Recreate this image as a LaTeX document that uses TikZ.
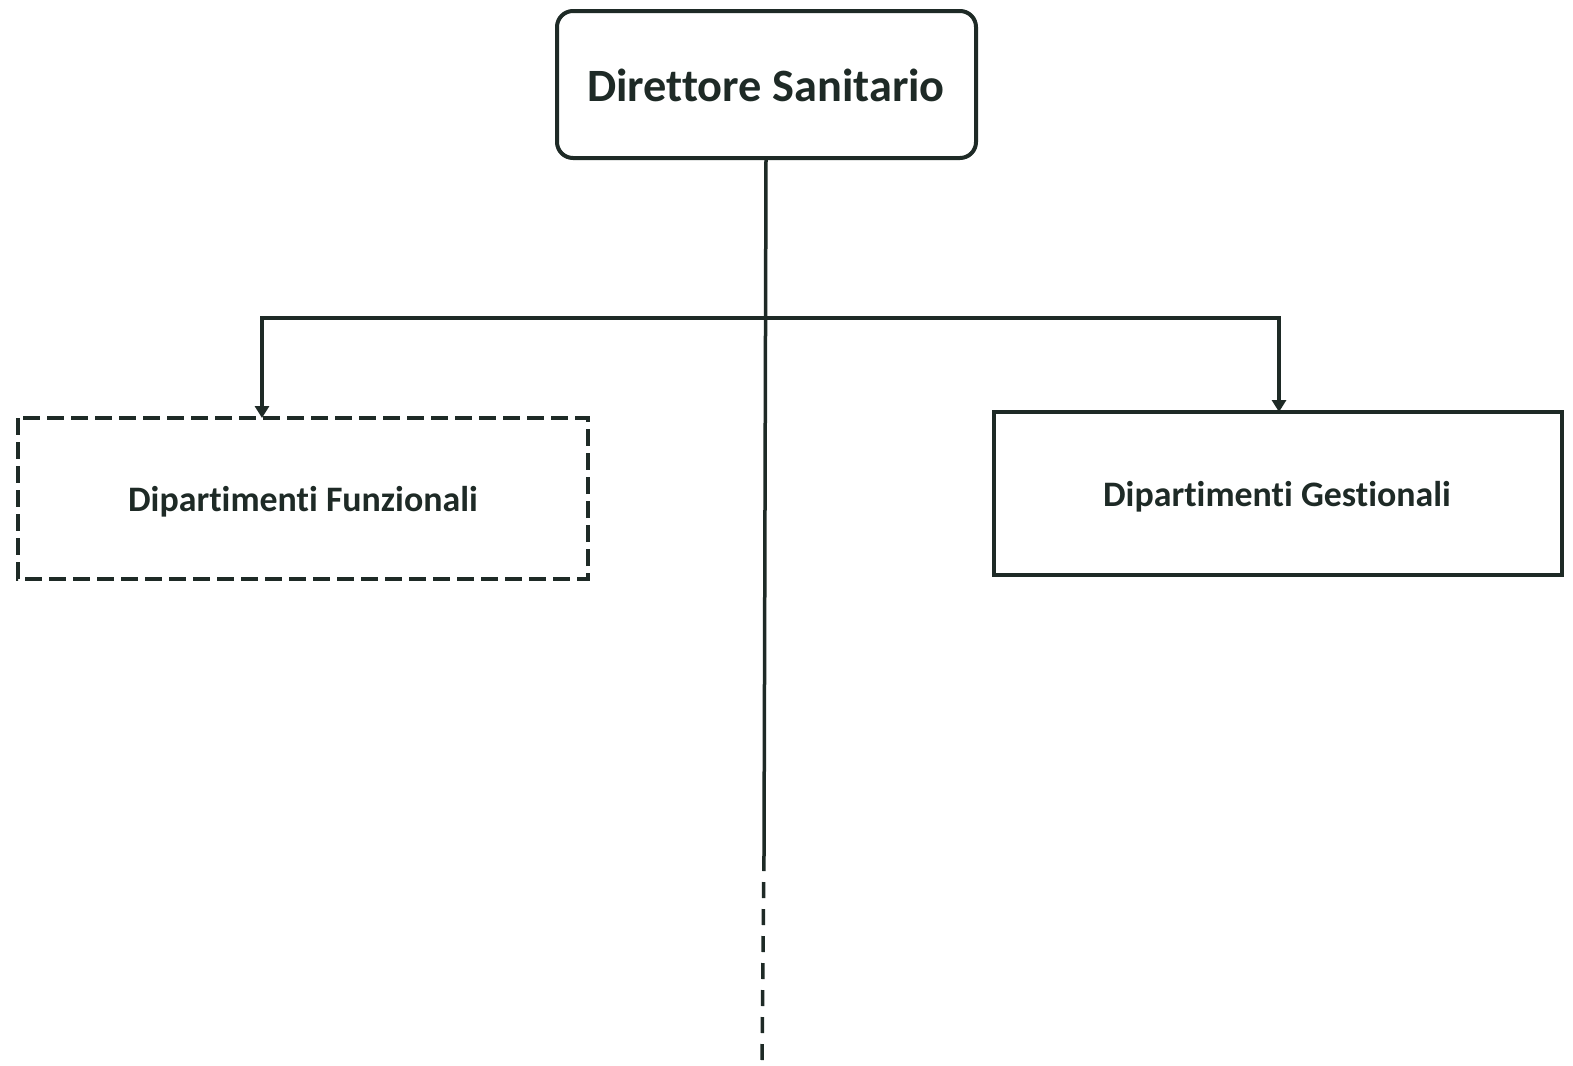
\documentclass[tikz,border=0pt]{standalone}
\usepackage{fontspec}
\setmainfont[Ligatures=NoCommon]{Carlito}
\usetikzlibrary{arrows.meta}
\definecolor{ink}{RGB}{30,42,38}
\tikzset{
  x=1bp,y=-1bp,
  conn/.style={draw=ink,line width=3.5bp},
  arr/.style={conn,-{Triangle[width=14bp,length=12bp]}},
  lbl/.style={font=\bfseries\fontsize{36}{40}\selectfont,text=ink},
}
\begin{document}
\begin{tikzpicture}
\useasboundingbox (0,0) rectangle (1573,1065);
\fill[white] (0,0) rectangle (1573,1065);
% top box
\draw[draw=ink,line width=4bp,rounded corners=16bp] (557,11) rectangle (976,158);
\node[lbl,font=\bfseries\fontsize{46.5}{50}\selectfont] (ds) at (766,85) {Direttore Sanitario};
\coordinate (dsb) at (766,158);
% side boxes
\draw[draw=ink,line width=4bp,dash pattern=on 17bp off 7bp] (18,418) rectangle (588,579);
\node[lbl] (df) at (303,502) {Dipartimenti Funzionali};
\coordinate (dft) at (262,418);
\draw[draw=ink,line width=4bp] (994,412) rectangle (1562,575);
\node[lbl] (dg) at (1277,497) {Dipartimenti Gestionali};
\coordinate (dgt) at (1279,412);
% connectors
\coordinate (junc) at (766,318);
\coordinate (vsplit) at (764,855);
\coordinate (vend) at (762,1062);
\draw[conn] (dsb) -- (vsplit);
\draw[conn,dash pattern=on 16bp off 11bp] (vsplit) -- (vend);
\draw[arr] (junc) -- (262,318) -- (dft);
\draw[arr] (junc) -- (1279,318) -- (dgt);
\end{tikzpicture}
\end{document}
